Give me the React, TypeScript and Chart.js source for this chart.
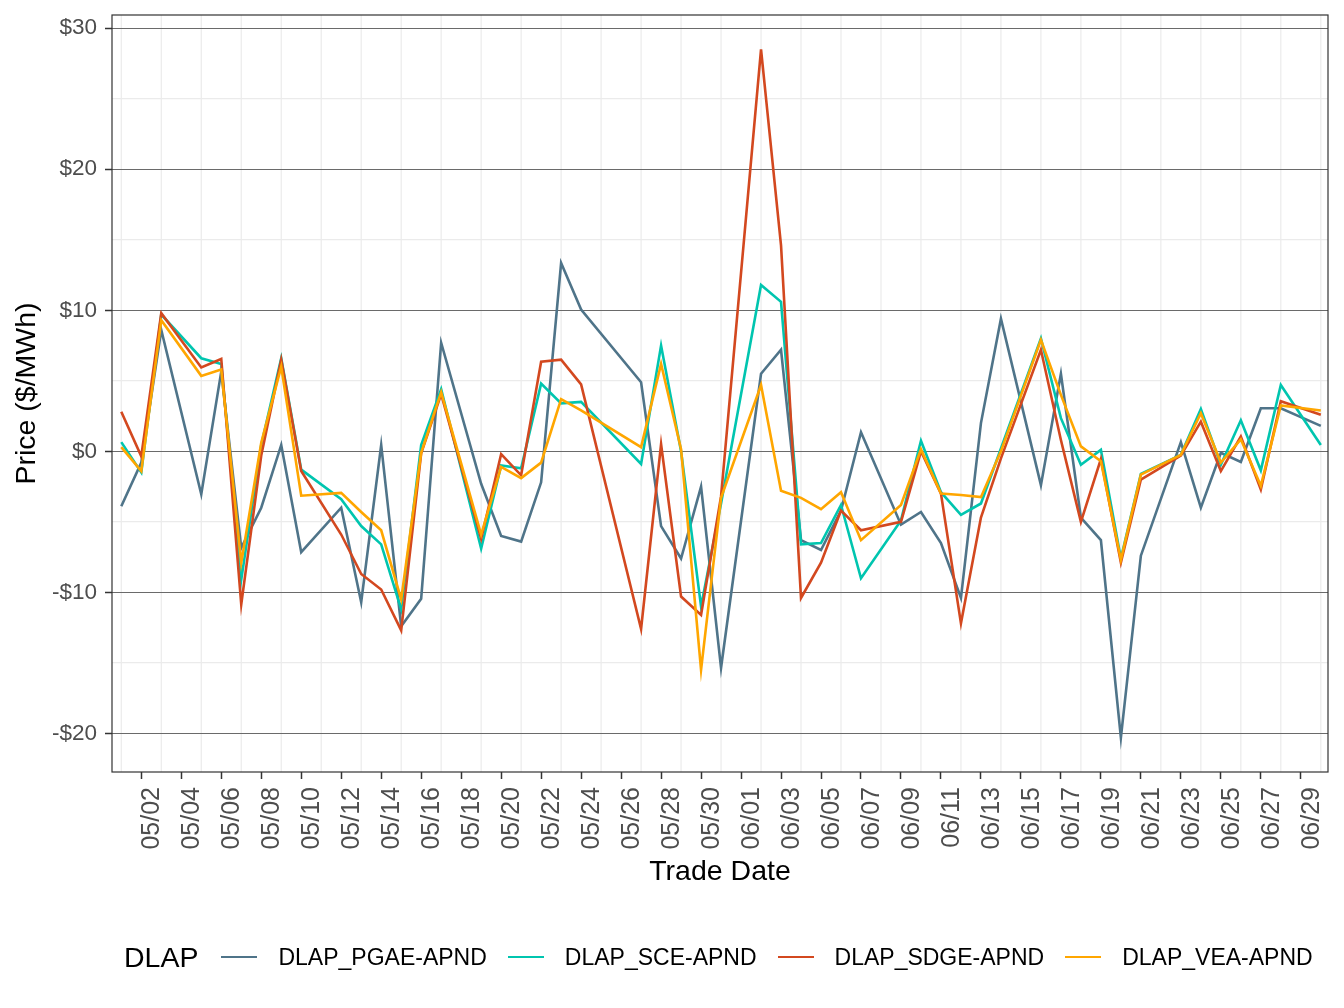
import React, { useEffect, useRef } from "react";
import { Chart, registerables } from "chart.js";

Chart.register(...registerables);

const dates = [
  "05/01", "05/02", "05/03", "05/04", "05/05", "05/06", "05/07", "05/08", "05/09", "05/10",
  "05/11", "05/12", "05/13", "05/14", "05/15", "05/16", "05/17", "05/18", "05/19", "05/20",
  "05/21", "05/22", "05/23", "05/24", "05/25", "05/26", "05/27", "05/28", "05/29", "05/30",
  "05/31", "06/01", "06/02", "06/03", "06/04", "06/05", "06/06", "06/07", "06/08", "06/09",
  "06/10", "06/11", "06/12", "06/13", "06/14", "06/15", "06/16", "06/17", "06/18", "06/19",
  "06/20", "06/21", "06/22", "06/23", "06/24", "06/25", "06/26", "06/27", "06/28", "06/29",
  "06/30",
];

const tickDates = [
  "05/02", "05/04", "05/06", "05/08", "05/10", "05/12", "05/14", "05/16", "05/18", "05/20",
  "05/22", "05/24", "05/26", "05/28", "05/30", "06/01", "06/03", "06/05", "06/07", "06/09",
  "06/11", "06/13", "06/15", "06/17", "06/19", "06/21", "06/23", "06/25", "06/27", "06/29",
];

const pgae = [
  -3.9, -0.8, 8.6, null, -3.05, 5.65, -6.85, -4.0, 0.45, -7.15,
  null, -4.0, -10.7, 0.45, -12.4, -10.45, 7.7, null, -2.3, -6.0,
  -6.4, -2.2, 13.35, 10.05, null, null, 4.9, -5.3, -7.6, -2.5,
  -15.35, null, 5.5, 7.2, -6.3, -7.0, -4.2, 1.35, null, -5.2,
  -4.3, -6.5, -10.4, 2.0, 9.4, null, -2.4, 5.5, -4.7, -6.3,
  -20.3, -7.4, null, 0.65, -4.0, -0.1, -0.75, 3.05, 3.05, null, 1.8,
];

const sce = [
  0.65, -1.5, 9.7, null, 6.6, 6.2, -9.1, 0.45, 6.6, -1.3,
  null, -3.4, -5.3, -6.6, -11.2, 0.45, 4.4, null, -6.9, -1.0,
  -1.2, 4.8, 3.4, 3.5, null, null, -0.9, 7.5, 0.0, -11.0,
  -3.7, null, 11.8, 10.6, -6.6, -6.5, -3.8, -9.0, null, -4.9,
  0.75, -2.9, -4.5, -3.7, 0.2, null, 8.0, 2.35, -0.95, 0.1,
  -7.6, -1.6, null, -0.25, 3.0, -0.95, 2.2, -1.35, 4.7, null, 0.45,
];

const sdge = [
  2.8, -0.35, 9.8, null, 5.95, 6.55, -10.85, -0.3, 6.5, -1.4,
  null, -5.9, -8.7, -9.8, -12.7, -0.15, 4.05, null, -6.2, -0.2,
  -1.7, 6.35, 6.5, 4.75, null, null, -12.6, 0.5, -10.3, -11.6,
  -3.2, null, 28.5, 14.6, -10.4, -7.9, -4.2, -5.6, null, -5.0,
  0.0, -3.0, -12.2, -4.7, -0.5, null, 7.2, 0.8, -5.0, -0.55,
  -7.9, -2.0, null, -0.3, 2.1, -1.4, 1.05, -2.7, 3.55, null, 2.6,
];

const vea = [
  0.3, -1.4, 9.3, null, 5.35, 5.8, -7.9, 0.6, 6.0, -3.15,
  null, -2.95, -4.3, -5.6, -10.5, -0.1, 4.2, null, -5.9, -1.1,
  -1.9, -0.8, 3.7, 2.9, null, null, 0.3, 6.2, 0.15, -15.5,
  -3.3, null, 4.7, -2.8, -3.3, -4.1, -2.9, -6.3, null, -3.8,
  0.15, -3.0, -3.1, -3.25, 0.0, null, 7.9, 4.0, 0.35, -0.7,
  -7.7, -1.65, null, -0.25, 2.7, -0.8, 0.85, -2.45, 3.25, null, 2.9,
];

const seriesNames = ["DLAP_PGAE-APND", "DLAP_SCE-APND", "DLAP_SDGE-APND", "DLAP_VEA-APND"];
const seriesColors = ["#4F7489", "#00C5AF", "#D3481F", "#FFA600"];
const seriesValues = [pgae, sce, sdge, vea];

const yTicks = [-20, -15, -10, -5, 0, 5, 10, 15, 20, 25, 30];
const yMajor = [-20, -10, 0, 10, 20, 30];

const FONT = "'Liberation Sans', Arial, Helvetica, sans-serif";

function fmtMoney(v: number) {
  return v < 0 ? "-$" + Math.abs(v) : "$" + v;
}

export default function App() {
  const ref = useRef<HTMLCanvasElement | null>(null);

  useEffect(() => {
    document.body.style.margin = "0";
    const canvas = ref.current;
    if (!canvas) return;

    const tickIdx = tickDates.map((d) => dates.indexOf(d));
    const minorIdx = dates.map((d, i) => (tickDates.includes(d) ? -1 : i)).filter((i) => i >= 0);

    const gridPlugin = {
      id: "ggGrid",
      beforeDraw(chart: any) {
        const { ctx, chartArea, scales } = chart;
        ctx.save();
        ctx.fillStyle = "#ffffff";
        ctx.fillRect(0, 0, chart.width, chart.height);
        ctx.strokeStyle = "#ebebeb";
        ctx.lineWidth = 1.2;
        for (const i of minorIdx) {
          const x = scales.x.getPixelForValue(i);
          ctx.beginPath();
          ctx.moveTo(x, chartArea.top);
          ctx.lineTo(x, chartArea.bottom);
          ctx.stroke();
        }
        ctx.restore();
      },
      afterDatasetsDraw(chart: any) {
        const { ctx, chartArea } = chart;
        ctx.save();
        ctx.strokeStyle = "#333333";
        ctx.lineWidth = 1.2;
        ctx.strokeRect(
          chartArea.left,
          chartArea.top,
          chartArea.right - chartArea.left,
          chartArea.bottom - chartArea.top
        );
        ctx.restore();
      },
    };

    const chart = new Chart(canvas, {
      type: "line",
      data: {
        datasets: seriesNames.map((name, k) => ({
          label: name,
          data: dates.map((d, i) => ({ x: i, y: seriesValues[k][i] })),
          borderColor: seriesColors[k],
          backgroundColor: seriesColors[k],
          borderWidth: 2.6,
          pointRadius: 0,
          tension: 0,
          spanGaps: true,
          fill: false,
          order: 4 - k,
        })),
      },
      options: {
        animation: false,
        responsive: false,
        devicePixelRatio: 1,
        layout: { padding: { left: 0, top: 15, right: 16, bottom: 118.6 } },
        plugins: {
          legend: { display: false },
          tooltip: { enabled: false },
        },
        scales: {
          x: {
            type: "linear",
            min: -0.465,
            max: 60.36,
            afterBuildTicks(scale: any) {
              scale.ticks = tickIdx.map((v) => ({ value: v }));
            },
            afterFit(scale: any) {
              scale.height = 117.4;
              scale.paddingLeft = 0;
              scale.paddingRight = 0;
            },
            border: { display: false },
            grid: {
              drawOnChartArea: false,
              drawTicks: true,
              tickLength: 7,
              tickWidth: 1.5,
              tickColor: "#333333",
            },
            ticks: {
              autoSkip: false,
              maxRotation: 90,
              minRotation: 90,
              padding: 8,
              labelOffset: 11,
              color: "#4d4d4d",
              font: { family: FONT, size: 25 },
              callback: (_v: any, index: number) => tickDates[index],
            },
            title: {
              display: true,
              text: "Trade Date",
              color: "#000000",
              font: { family: FONT, size: 28.5 },
              padding: { top: 0, bottom: 0 },
            },
          },
          y: {
            type: "linear",
            min: -22.74,
            max: 30.94,
            afterBuildTicks(scale: any) {
              scale.ticks = yTicks.map((v) => ({ value: v }));
            },
            afterFit(scale: any) {
              scale.width = 112;
              scale.paddingTop = 0;
              scale.paddingBottom = 0;
            },
            border: { display: false },
            grid: {
              drawTicks: true,
              tickLength: 7,
              tickWidth: 1.5,
              color: (c: any) => (yMajor.includes(c.tick?.value) ? "#6a6a6a" : "#ebebeb"),
              lineWidth: (c: any) => (yMajor.includes(c.tick?.value) ? 1 : 1.2),
              tickColor: (c: any) => (yMajor.includes(c.tick?.value) ? "#333333" : "rgba(0,0,0,0)"),
            },
            ticks: {
              padding: 8,
              color: "#4d4d4d",
              font: { family: FONT, size: 22.5 },
              callback: (v: any) => (yMajor.includes(v) ? fmtMoney(v) : ""),
            },
            title: {
              display: true,
              text: "Price ($/MWh)",
              color: "#000000",
              font: { family: FONT, size: 28.5 },
              padding: { top: 10, bottom: 0 },
            },
          },
        },
      },
      plugins: [gridPlugin],
    } as any);

    return () => chart.destroy();
  }, []);

  return (
    <div
      style={{
        position: "absolute",
        left: 0,
        top: 0,
        width: 1344,
        height: 1008,
        background: "#ffffff",
        overflow: "hidden",
        fontFamily: FONT,
      }}
    >
      <canvas ref={ref} width={1344} height={1008} style={{ width: 1344, height: 1008, display: "block" }} />
      <div
        style={{
          position: "absolute",
          left: 124,
          top: 937,
          height: 40,
          display: "flex",
          alignItems: "center",
          whiteSpace: "nowrap",
        }}
      >
        <span style={{ fontSize: 28.5, color: "#000", marginRight: 23 }}>DLAP</span>
        {seriesNames.map((name, k) => (
          <React.Fragment key={name}>
            <span
              style={{
                display: "inline-block",
                width: 36,
                height: 2.5,
                background: seriesColors[k],
                marginRight: 21,
              }}
            />
            <span style={{ fontSize: 23, color: "#000", marginRight: 21 }}>{name}</span>
          </React.Fragment>
        ))}
      </div>
    </div>
  );
}
